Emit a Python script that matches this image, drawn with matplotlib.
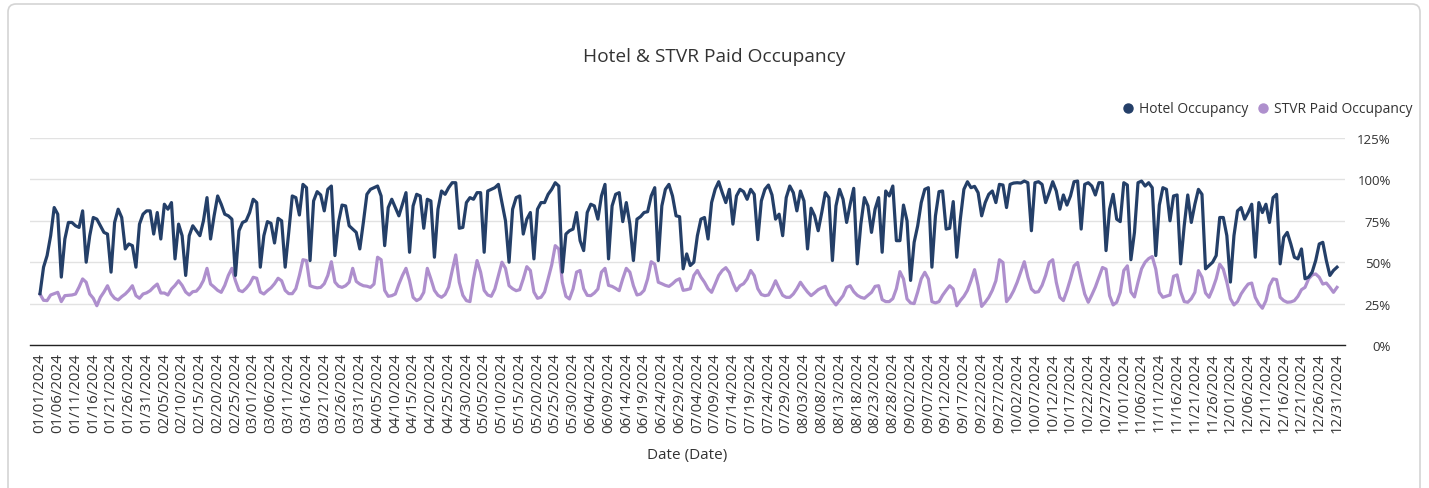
import numpy as np
import pandas as pd
import matplotlib
matplotlib.use("Agg")
import matplotlib.pyplot as plt
from matplotlib.lines import Line2D
from matplotlib.patches import FancyBboxPatch
from matplotlib.transforms import IdentityTransform

plt.rcParams['font.family'] = ['Open Sans', 'DejaVu Sans']

# one row per week, Monday..Sunday, starting 01/01/2024
hotel_occupancy = [
    31, 47, 54, 66, 83, 79, 41,
    64, 74, 74, 72, 71, 81, 50,
    66, 77, 76, 72, 68, 67, 44,
    74, 82, 77, 58, 61, 60, 47,
    73, 79, 81, 81, 67, 80, 64,
    85, 82, 86, 52, 73, 66, 42,
    66, 72, 69, 66, 75, 89, 64,
    78, 90, 85, 79, 78, 76, 42,
    69, 74, 75, 80, 88, 86, 47,
    66, 74.5, 73.5, 61.6, 76.5, 75, 47,
    68, 90, 89, 78.5, 97, 95, 51,
    87, 92.6, 90.6, 81, 94, 96, 54,
    74, 84.5, 84, 72, 70, 68, 58,
    74, 91, 94, 95, 96, 90, 60,
    83, 88, 83, 78, 85, 92, 56,
    84, 91, 90, 70.5, 88, 87, 53,
    82, 93, 91, 95, 98, 98, 70.5,
    71, 86, 89, 88, 92, 92, 56,
    93, 94, 95, 97, 86, 75, 50,
    82, 89, 90, 67, 76, 80, 52,
    82, 86, 86, 91, 94, 98, 96,
    44, 67, 69, 70, 80, 63, 57,
    80, 85, 84, 76, 90, 97, 52,
    84, 91, 92, 74.5, 86, 73, 51,
    76, 77.5, 80, 80.5, 90, 95, 51,
    84, 94, 97, 90, 78, 77.5, 46,
    55, 48, 50, 66, 76, 77, 64,
    86, 94, 98.6, 92, 86, 94, 73,
    90, 94, 92.6, 88, 94, 91, 63.6,
    87, 94, 96.6, 90.6, 76, 79, 66,
    89, 96, 92, 81, 93, 87, 58,
    82.6, 78, 69, 80, 92, 89, 51,
    84, 94, 88, 74, 85, 94.6, 49,
    73, 89, 84, 68, 82, 89, 56,
    93, 90, 96, 63, 63, 84.5, 75,
    39, 62, 72, 86, 94, 95, 47,
    78, 92.6, 93, 70, 70.5, 86.6, 53,
    76, 94, 98.6, 95, 95.8, 92, 78,
    86, 91, 93, 86, 97, 96.6, 83,
    97, 97.8, 98, 97.8, 99, 98, 69,
    98, 98.6, 97, 86, 92, 98.6, 93,
    82, 90.6, 84.5, 90, 98.6, 99, 70,
    97, 98, 96, 90.6, 98, 98, 57,
    82, 91, 76, 74.5, 98, 96.6, 51.5,
    68, 98, 99, 96, 98, 95, 54,
    84.5, 95, 94, 75, 90, 90.6, 49,
    72, 90.6, 74, 85, 94, 91, 46,
    48, 50, 54, 77, 77, 66, 38,
    66, 81, 83, 76, 80, 85, 53,
    86, 80, 85, 74, 89, 91, 49,
    65, 68, 61, 53, 52, 58, 40,
    41, 44, 51, 61, 62, 51, 42,
    45, 47,
]

stvr_occupancy = [
    30.8, 27, 26.8, 30.2, 31, 31.8, 26.2,
    29.8, 30, 30.2, 30.8, 35, 39.9, 37.9,
    30.8, 28.2, 23.7, 28.8, 32, 35.8, 30.8,
    28.2, 27.2, 29.2, 30.8, 33, 35.8, 29.8,
    28.2, 30.8, 31.5, 32.8, 35, 36.8, 31.4,
    31.4, 30.2, 33.8, 36, 38.8, 36, 32,
    30.2, 32.2, 32.5, 35, 39, 46.3, 36.8,
    35, 33, 31.8, 36, 42, 46.3, 38.8,
    33, 32.2, 34.2, 36.8, 40.9, 40.3, 32,
    30.8, 32.8, 34.5, 37, 40.3, 38.8, 33,
    31, 31, 34, 42, 51.5, 51, 35.8,
    35, 34.5, 34.8, 37, 42, 50.3, 38,
    35.5, 34.8, 35.8, 37.9, 46.3, 38.4, 36.8,
    35.8, 35.5, 34.8, 36.8, 53, 51.5, 33,
    29.4, 29.8, 30.8, 36.8, 42, 46.3, 38.8,
    28.8, 26.8, 28, 31.8, 46.3, 39.9, 33,
    30, 28.8, 30.5, 35, 44.9, 54.4, 37.9,
    30, 26.8, 26.2, 40, 51, 44, 33,
    30.2, 29.4, 33.8, 42, 50, 46.3, 35.8,
    34, 32.8, 33.4, 39.9, 47.3, 45, 32,
    28.2, 28.8, 32, 40, 48.3, 60, 58,
    38, 29.4, 27.8, 33.8, 44, 45, 34,
    30, 29.8, 31.4, 33.8, 44, 46.3, 36,
    35.4, 34.2, 32.8, 40, 46.3, 44, 35.8,
    30.2, 30.8, 33, 39.9, 50.3, 48.8, 37.9,
    37, 36, 35.4, 37, 39, 40, 33,
    33.4, 34, 42, 45, 41, 37.9, 34,
    31.8, 36.8, 42, 45, 46.7, 43.7, 37.4,
    32.8, 35.8, 37, 39.9, 45, 41.9, 34,
    30.5, 29.8, 30.2, 34, 38.8, 34.2, 30,
    28.8, 28.8, 30.8, 34, 37.9, 34.8, 32,
    29.8, 31.5, 33.4, 34.5, 35.4, 30.2, 27,
    24.2, 27, 29.8, 34.8, 35.8, 32.2, 30,
    28.8, 28.2, 30, 31.8, 35.4, 35.8, 27.4,
    26.2, 26.2, 28, 34, 44.3, 39.9, 27.8,
    25.4, 25, 32, 40, 43.9, 39.9, 26.2,
    25.4, 26.2, 30, 33, 35.8, 33.8, 23.7,
    26.8, 29.4, 33, 38.8, 45.5, 35.8, 23.3,
    25.8, 28.8, 33, 38.8, 51.5, 49.8, 26.2,
    28.8, 32.8, 37.9, 44, 50.3, 41, 33.8,
    31.8, 32.2, 36, 42, 49.8, 51.5, 37.9,
    28.8, 26.8, 32.8, 40, 47.8, 49.8, 39.9,
    30.8, 25.8, 30.2, 35, 40.9, 46.8, 45.8,
    29.8, 24.2, 25.8, 31.8, 45, 47.8, 32,
    29, 38, 46, 50, 52.2, 53.4, 45.8,
    31.8, 28.8, 29.5, 30.2, 41.5, 42.3, 32.2,
    26.2, 25.8, 28, 31.8, 44.9, 40.9, 31.4,
    28.8, 33.8, 40, 48.8, 45.8, 37.9, 28,
    24.2, 26.2, 30.8, 34, 36.8, 37.4, 28.8,
    24.8, 22.2, 26.8, 35.8, 39.9, 39.5, 28.8,
    26.8, 25.8, 26, 26.8, 29.4, 33.4, 34.8,
    39.9, 42.3, 42.9, 40.9, 36.8, 37.4, 34.8,
    31.8, 34.8,
]

dates = pd.date_range("2024-01-01", "2024-12-31", freq="D")
tick_every = 5
y_ticks = [0, 25, 50, 75, 100, 125]

hotel_color = "#243f68"
stvr_color = "#ae8fcd"

W, H = 1429, 489
fig = plt.figure(figsize=(W / 100, H / 100), dpi=100)
fig.patch.set_facecolor("white")

card = FancyBboxPatch((8, -20), 1412, 504, boxstyle="round,pad=0,rounding_size=8",
                      transform=IdentityTransform(), facecolor="white",
                      edgecolor="#d4d4d4", linewidth=1.2, zorder=-1)
fig.patches.append(card)

ax = fig.add_axes([30 / W, 1 - 346 / H, (1345 - 30) / W, (346 - 139) / H])
ax.patch.set_alpha(0)

x = np.arange(len(hotel_occupancy))
ax.plot(np.arange(len(stvr_occupancy)), stvr_occupancy, color=stvr_color, lw=2.3,
        solid_joinstyle="round", zorder=3)
ax.plot(x, hotel_occupancy, color=hotel_color, lw=2.3, solid_joinstyle="round", zorder=4)

ax.set_xlim(-2.81, 367.25)
ax.set_ylim(0, 125)
ax.set_yticks(y_ticks)
ax.set_yticklabels([f"{v}%" for v in y_ticks])
ax.yaxis.tick_right()
ax.tick_params(axis="y", length=0, pad=33, labelsize=9.5, labelcolor="#333333")
for lab in ax.get_yticklabels():
    lab.set_horizontalalignment("right")
ax.grid(axis="y", color="#e2e2e2", lw=1)
ax.set_axisbelow(True)

tick_pos = list(range(0, len(dates), tick_every))
ax.set_xticks(tick_pos)
ax.set_xticklabels([dates[i].strftime("%m/%d/%Y") for i in tick_pos], rotation=90)
ax.tick_params(axis="x", length=0, pad=5, labelsize=10.8, labelcolor="#333333")

for side in ["top", "left", "right"]:
    ax.spines[side].set_visible(False)
ax.spines["bottom"].set_color("#222222")
ax.spines["bottom"].set_linewidth(1)

ax.set_xlabel("Date (Date)", fontsize=11, color="#333333", labelpad=11)

fig.text(714 / W, 1 - 57 / H, "Hotel & STVR Paid Occupancy", ha="center", va="center",
         fontsize=13.8, color="#333333")

handles = [
    Line2D([], [], marker="o", ls="none", color=hotel_color, markersize=6.5),
    Line2D([], [], marker="o", ls="none", color=stvr_color, markersize=6.5),
]
fig.legend(handles, ["Hotel Occupancy", "STVR Paid Occupancy"], loc="center right",
           bbox_to_anchor=(1413 / W, 1 - 110 / H), ncol=2, frameon=False, fontsize=10,
           handlelength=1.0, handletextpad=0.3, columnspacing=0.6, labelcolor="#333333",
           borderaxespad=0, borderpad=0)

fig.savefig("out.png", dpi=100)
